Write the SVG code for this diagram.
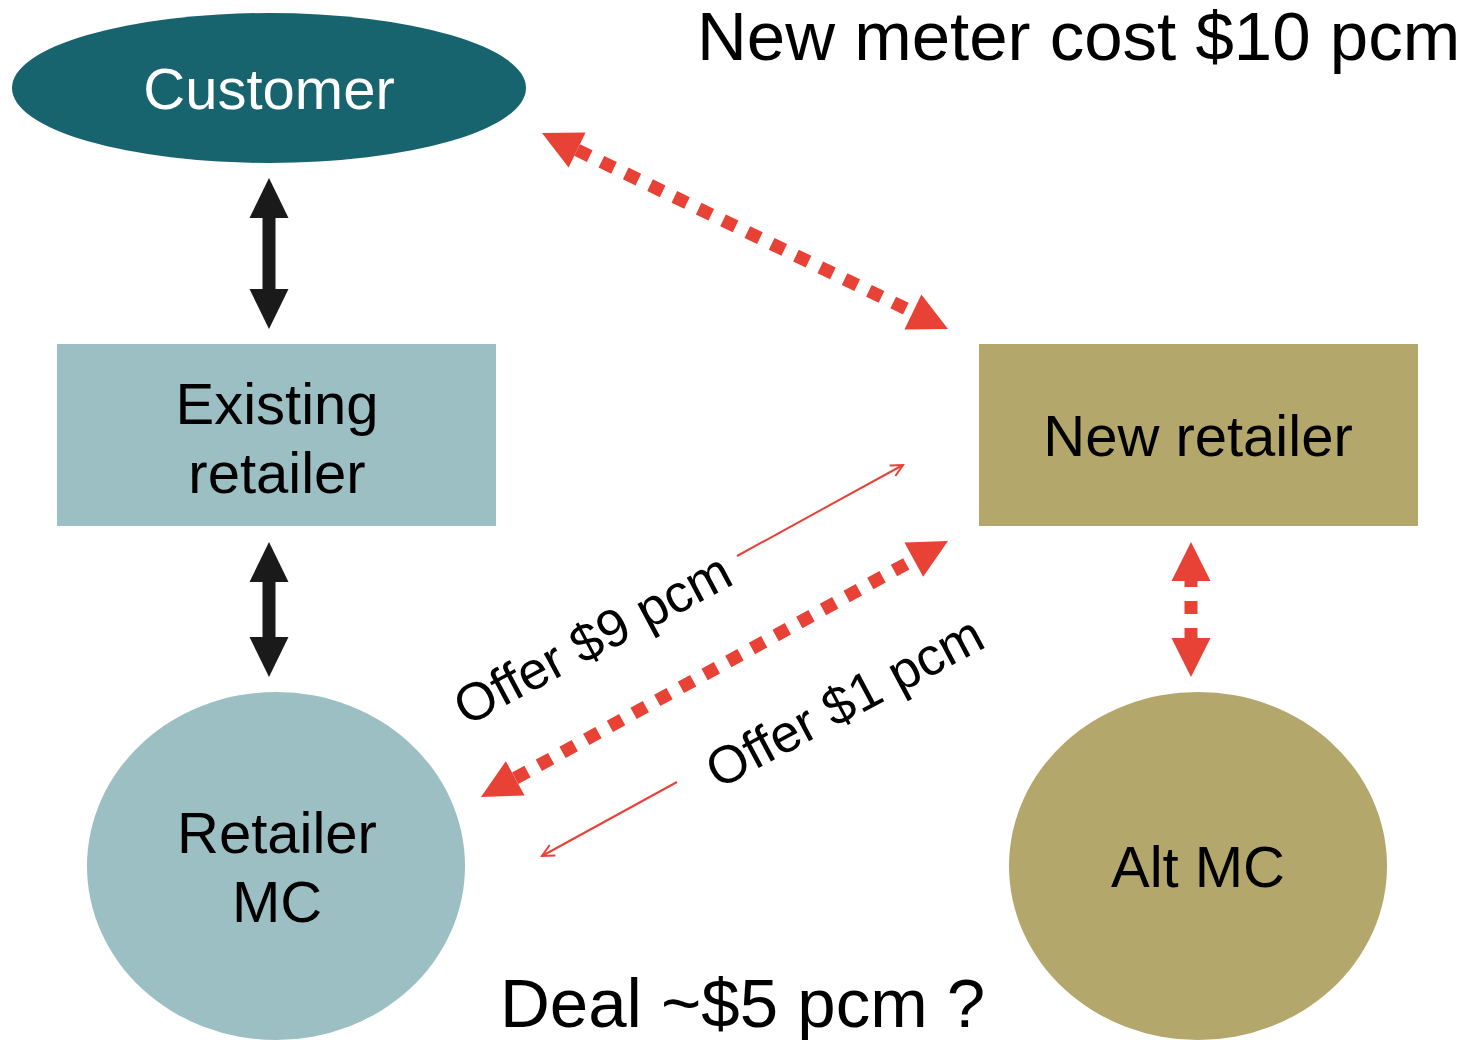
<svg xmlns="http://www.w3.org/2000/svg" width="1468" height="1040" viewBox="0 0 1468 1040">
<style>
text{font-family:"Liberation Sans",Arial,sans-serif;fill:#000}
.lbl{font-size:58px;text-anchor:middle}
.big{font-size:69px}
.off{font-size:53px;text-anchor:middle}
.blk{stroke:#1a1a1a;stroke-width:13;fill:none}
.dot{stroke:#E84136;stroke-width:13;fill:none;stroke-dasharray:14 13}
.thin{stroke:#E84136;stroke-width:2;fill:none}
</style>
<defs>
<marker id="hb" markerUnits="userSpaceOnUse" viewBox="0 -20 40 40" refX="0" refY="0" markerWidth="40" markerHeight="40" orient="auto-start-reverse" overflow="visible"><path d="M0,-19.5 L40,0 L0,19.5 Z" fill="#1a1a1a"/></marker>
<marker id="hr" markerUnits="userSpaceOnUse" viewBox="0 -20 40 40" refX="0" refY="0" markerWidth="40" markerHeight="40" orient="auto-start-reverse" overflow="visible"><path d="M0,-19.5 L39,0 L0,19.5 Z" fill="#E84136"/></marker>
<marker id="ho" markerUnits="userSpaceOnUse" viewBox="-14 -8 16 16" refX="0" refY="0" markerWidth="16" markerHeight="16" orient="auto" overflow="visible"><path d="M-12,-6 L0,0 L-12,6" fill="none" stroke="#E84136" stroke-width="2"/></marker>
</defs>
<g id="customer"><ellipse cx="269" cy="88" rx="257" ry="75" fill="#17646E"/><text class="lbl" x="269" y="109" style="fill:#fff">Customer</text></g>
<g id="existing-retailer"><rect x="57" y="344" width="439" height="182" fill="#9BBFC3"/><text class="lbl" x="277" y="424">Existing</text><text class="lbl" x="277" y="493">retailer</text></g>
<g id="new-retailer"><rect x="979" y="344" width="439" height="182" fill="#B4A76C"/><text class="lbl" x="1198" y="456">New retailer</text></g>
<g id="retailer-mc"><ellipse cx="276" cy="866" rx="189" ry="174" fill="#9BBFC3"/><text class="lbl" x="277" y="853">Retailer</text><text class="lbl" x="277" y="922">MC</text></g>
<g id="alt-mc"><ellipse cx="1198" cy="866" rx="189" ry="174" fill="#B4A76C"/><text class="lbl" x="1198" y="887">Alt MC</text></g>
<g id="connectors">
<line class="blk" x1="269" y1="218" x2="269" y2="289" marker-start="url(#hb)" marker-end="url(#hb)"/>
<line class="blk" x1="269" y1="582" x2="269" y2="637" marker-start="url(#hb)" marker-end="url(#hb)"/>
<line class="dot" x1="577.1" y1="150" x2="912.9" y2="312" marker-start="url(#hr)" marker-end="url(#hr)"/>
<line class="dot" x1="515.2" y1="778.3" x2="913.8" y2="559.7" marker-start="url(#hr)" marker-end="url(#hr)"/>
<line class="dot" x1="1191" y1="581" x2="1191" y2="638" style="stroke-dasharray:13 14;stroke-dashoffset:7" marker-start="url(#hr)" marker-end="url(#hr)"/>
<line class="thin" x1="737" y1="556" x2="903" y2="465" marker-end="url(#ho)"/>
<line class="thin" x1="677" y1="782" x2="542" y2="856" marker-end="url(#ho)"/>
</g>
<text class="off" x="601" y="655" transform="rotate(-28 601 655)">Offer $9 pcm</text>
<text class="off" x="853" y="718" transform="rotate(-28 853 718)">Offer $1 pcm</text>
<text class="big" x="697" y="60">New meter cost $10 pcm</text>
<text class="big" x="500" y="1027">Deal ~$5 pcm ?</text>
</svg>
